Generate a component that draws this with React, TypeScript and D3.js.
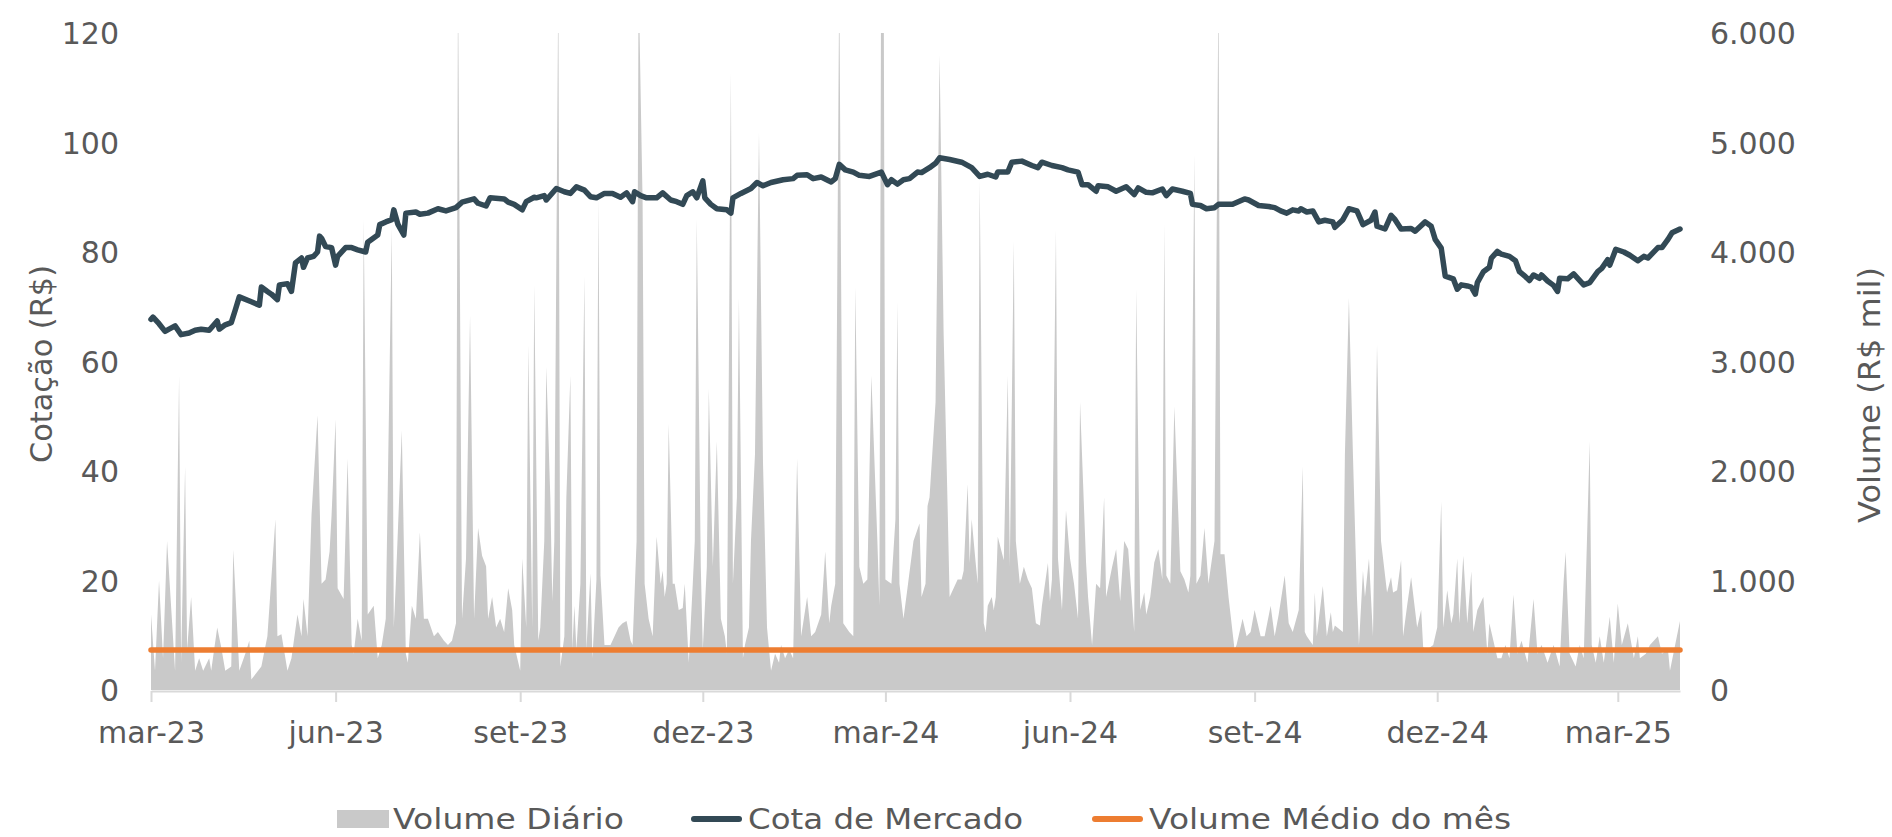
import React, { useEffect, useRef } from "react";
import * as d3 from "d3";

const startDate = "2023-03-01";
const lastDay = 762;

// Volume diário (R$ mil): [dias desde 01/03/2023, valor]
const volumeDiario: [number, number][] = [
  [0, 690], [2, 175], [4, 1000], [6, 290], [8, 1360], [12, 175], [14, 2870], [15, 250], [17, 2040], [18, 370],
  [20, 850], [22, 175], [24, 290], [26, 175], [29, 290], [30, 175], [33, 570], [35, 390], [37, 175], [40, 215],
  [41, 1280], [44, 175], [47, 330], [49, 450], [50, 95], [55, 215], [58, 490], [62, 1560], [63, 490], [65, 510],
  [68, 175], [70, 290], [73, 690], [75, 490], [76, 830], [78, 490], [80, 1600], [83, 2510], [85, 970], [87, 1010],
  [89, 1265], [90, 1600], [92, 2470], [93, 930], [96, 830], [98, 2115], [100, 410], [101, 330], [103, 650], [105, 450],
  [106, 4300], [108, 690], [111, 770], [113, 290], [115, 410], [117, 650], [120, 4220], [121, 570], [122, 970], [125, 2370],
  [127, 330], [128, 250], [130, 770], [132, 650], [134, 1440], [136, 650], [138, 650], [141, 490], [143, 530], [146, 450],
  [148, 410], [150, 450], [152, 610], [153, 6500], [155, 650], [157, 1200], [159, 3420], [161, 650], [163, 1480], [165, 1225],
  [167, 1130], [168, 650], [170, 850], [172, 570], [174, 650], [176, 530], [178, 930], [180, 730], [181, 410], [184, 175],
  [185, 1200], [187, 570], [188, 3150], [190, 570], [191, 3700],
  [193, 450], [194, 570], [196, 1360], [197, 2950], [199, 1760], [200, 810], [201, 1360], [203, 6500], [204, 215], [206, 490],
  [207, 1760], [209, 2870], [210, 370], [211, 770], [212, 370], [214, 970], [216, 3780], [217, 370], [219, 1066], [220, 290],
  [222, 1010], [223, 4490], [224, 1045], [226, 410], [227, 410], [229, 410], [231, 490], [233, 570], [235, 610], [237, 630],
  [239, 450], [240, 410], [242, 1360], [243, 6500], [245, 4450], [246, 970], [248, 650], [250, 490], [252, 1400], [254, 970],
  [255, 1090], [256, 850], [257, 970], [258, 2430], [260, 970], [261, 970], [263, 730], [265, 750], [266, 970], [268, 250],
  [270, 970], [271, 1360], [272, 4300], [274, 1125], [275, 370], [277, 1125], [278, 2750], [280, 1125], [282, 2270], [284, 650],
  [286, 490], [287, 330], [289, 5640], [290, 970], [292, 1760], [293, 3580], [295, 290], [296, 410], [298, 570], [299, 1360],
  [301, 2150], [303, 5090], [305, 2075], [307, 570], [309, 175], [311, 330], [313, 250], [314, 410], [316, 290], [318, 370],
  [320, 290], [322, 2115], [324, 490], [325, 610], [327, 850], [329, 490], [331, 530], [334, 690], [336, 1265], [338, 610],
  [339, 770], [341, 970], [343, 6500], [345, 610], [348, 530], [350, 490], [351, 3680], [353, 1125], [355, 970], [357, 1010],
  [359, 2870], [362, 1360], [363, 770], [364, 7500], [365, 7500], [366, 1010], [369, 970], [371, 1560], [372, 3540], [373, 970],
  [375, 650], [377, 930], [380, 1360],
  [383, 1520], [384, 850], [386, 970], [387, 1680], [388, 1760], [391, 2630], [393, 5800], [395, 3270], [397, 1680], [398, 850],
  [400, 930], [402, 1010], [404, 1010], [405, 1090], [407, 1880], [408, 1160], [409, 1560], [411, 1160], [412, 970], [413, 4650],
  [415, 610], [416, 530], [417, 770], [419, 850], [420, 730], [421, 850], [422, 1400], [425, 1185], [427, 2870], [428, 1125],
  [430, 4100], [431, 1360], [433, 970], [435, 1125], [437, 1010], [439, 930], [441, 610], [443, 590], [444, 770], [447, 1160],
  [448, 810], [449, 1010], [451, 4200], [452, 1200], [454, 730], [456, 1640], [458, 1200], [460, 970], [462, 650], [463, 2630],
  [466, 1165], [467, 850], [469, 410], [471, 970], [473, 930], [475, 1760], [476, 850], [479, 1125], [481, 1285], [483, 810],
  [485, 1360], [487, 1285], [490, 530], [491, 3660], [493, 730], [495, 890], [496, 690], [498, 850], [500, 1165], [502, 1285],
  [504, 1010], [505, 4260], [506, 1045], [508, 970], [510, 2590], [513, 1085], [515, 1010], [517, 890], [518, 1045], [520, 4890],
  [521, 970], [523, 1045], [525, 1480], [527, 970], [530, 1360], [532, 6500], [533, 1240], [535, 1240], [537, 850], [540, 370],
  [541, 410], [544, 650], [546, 490], [548, 530], [550, 730], [553, 490], [555, 490], [558, 770], [560, 490], [562, 690],
  [565, 1045], [567, 610], [569, 530], [572, 730], [574, 2040],
  [575, 530], [576, 490], [579, 410], [580, 890], [581, 490], [584, 950], [586, 490], [588, 710], [589, 530], [590, 590],
  [594, 530], [595, 2150], [597, 3580], [599, 2150], [601, 850], [602, 410], [604, 1090], [605, 850], [607, 1200], [609, 490],
  [611, 3150], [613, 1360], [616, 890], [618, 1030], [619, 890], [621, 910], [623, 1185], [624, 490], [626, 770], [628, 1030],
  [631, 570], [633, 730], [634, 390], [636, 370], [639, 410], [641, 570], [643, 1720], [644, 570], [646, 910], [648, 610],
  [649, 690], [651, 1200], [652, 610], [654, 1225], [656, 610], [658, 1085], [659, 530], [661, 730], [664, 850], [666, 330],
  [667, 610], [671, 290], [673, 290], [675, 410], [677, 290], [679, 870], [681, 330], [683, 450], [686, 250], [689, 830],
  [691, 330], [693, 410], [696, 250], [699, 410], [702, 215], [704, 990], [705, 1260], [707, 330], [710, 215], [712, 410],
  [714, 290], [717, 2270], [718, 410], [720, 250], [722, 490], [724, 250], [727, 670], [729, 250], [731, 790], [733, 410],
  [736, 610], [739, 290], [741, 490], [742, 290], [745, 330], [747, 410], [751, 490], [753, 330], [756, 370], [757, 175],
  [760, 450], [762, 630],
];

// Cota de mercado (R$): [dias desde 01/03/2023, valor]
const cotaMercado: [number, number][] = [
  [0, 67.7], [1, 68.1], [4, 66.9], [7, 65.5], [9, 65.9], [12, 66.5], [15, 64.9], [19, 65.2], [22, 65.7], [25, 65.9],
  [29, 65.7], [33, 67.4], [34, 65.9], [37, 66.7], [40, 67.1], [42, 69.4], [44, 71.8], [50, 70.9], [54, 70.3], [55, 73.6],
  [58, 72.8], [60, 72.3], [63, 71.3], [64, 74], [68, 74.2], [70, 72.8], [72, 78], [75, 78.9], [76, 77.2], [78, 78.9],
  [81, 79.2], [83, 80], [84, 82.9], [85, 82.5], [87, 81], [90, 80.8], [92, 77.6], [93, 79.2], [97, 80.8], [100, 80.8],
  [103, 80.4], [107, 80], [108, 81.8], [113, 83.1], [114, 85], [117, 85.5], [120, 85.9], [121, 87.7], [123, 85.1], [126, 83.1],
  [127, 87.1], [132, 87.3], [134, 86.9], [138, 87.1], [143, 87.9], [147, 87.5], [152, 88.1], [155, 89.1], [161, 89.7], [163, 88.9],
  [167, 88.4], [169, 89.9], [176, 89.7], [178, 89.1], [181, 88.7], [185, 87.7], [187, 89.2], [191, 90],
  [192, 89.9], [196, 90.3], [197, 89.5], [202, 91.6], [206, 91], [209, 90.7], [212, 91.9], [216, 91.3], [219, 90.1], [222, 89.9],
  [226, 90.7], [230, 90.7], [234, 90], [237, 90.8], [240, 89.2], [241, 91], [244, 90.3], [247, 89.9], [252, 89.9], [255, 90.8],
  [259, 89.5], [262, 89.2], [265, 88.7], [267, 90.3], [270, 91], [272, 89.9], [275, 93], [276, 89.9], [279, 88.7], [282, 87.9],
  [287, 87.7], [289, 87.1], [290, 89.9], [294, 90.7], [299, 91.6], [302, 92.7], [305, 92.1], [309, 92.7], [315, 93.2], [320, 93.4],
  [322, 94], [327, 94.1], [330, 93.4], [334, 93.7], [339, 92.8], [341, 93.4], [343, 96], [346, 95], [350, 94.6], [353, 94],
  [358, 93.8], [364, 94.6], [367, 92.3], [369, 93.2], [372, 92.4], [375, 93.2], [378, 93.4], [382, 94.6],
  [384, 94.5], [388, 95.4], [391, 96.2], [393, 97.2], [398, 96.9], [404, 96.4], [409, 95.4], [413, 93.8], [417, 94.2], [421, 93.7],
  [422, 94.6], [427, 94.6], [429, 96.4], [434, 96.6], [439, 95.8], [442, 95.4], [444, 96.4], [449, 95.8], [454, 95.4], [457, 95],
  [462, 94.6], [464, 92.3], [467, 92.3], [471, 91.1], [472, 92.1], [477, 91.9], [481, 91.1], [486, 91.9], [490, 90.5], [492, 91.7],
  [496, 90.9], [499, 90.8], [504, 91.5], [506, 90.3], [509, 91.5], [514, 91.1], [518, 90.7], [519, 88.7], [523, 88.5], [526, 87.9],
  [530, 88.1], [532, 88.7], [539, 88.7], [545, 89.7], [547, 89.5], [552, 88.5], [557, 88.3], [560, 88.1], [563, 87.5], [566, 87.1],
  [569, 87.7], [572, 87.5],
  [573, 87.9], [576, 87.3], [579, 87.5], [582, 85.5], [585, 85.8], [589, 85.5], [590, 84.5], [594, 85.9], [597, 87.9], [601, 87.5],
  [604, 85], [608, 85.8], [610, 87.3], [611, 84.7], [615, 84.2], [618, 86.7], [620, 85.9], [623, 84.2], [628, 84.3], [630, 83.8],
  [635, 85.5], [638, 84.7], [640, 82.3], [643, 80.7], [645, 75.6], [649, 75.1], [651, 73.2], [653, 74], [656, 73.8], [658, 73.6],
  [660, 72.3], [661, 74.4], [664, 76.4], [667, 77.2], [668, 78.9], [671, 80.1], [673, 79.6], [677, 79.2], [680, 78.4], [682, 76.4],
  [685, 75.5], [687, 74.8], [689, 75.8], [692, 75.2], [693, 75.8], [696, 74.7], [699, 73.9], [701, 72.8], [702, 75.2], [706, 75.1],
  [709, 76], [714, 74], [717, 74.4], [721, 76.4], [723, 77], [726, 78.6], [727, 77.6], [730, 80.5], [734, 80], [737, 79.4],
  [741, 78.4], [744, 79.2], [746, 78.9], [751, 80.8], [753, 80.8], [756, 82.3], [758, 83.5], [762, 84.2],
];

// Volume médio do mês (R$ mil)
const volumeMedio = 365;

const xTickDates = [
  "2023-03-01", "2023-06-01", "2023-09-01", "2023-12-01", "2024-03-01",
  "2024-06-01", "2024-09-01", "2024-12-01", "2025-03-01",
];
const xTickLabels = ["mar-23", "jun-23", "set-23", "dez-23", "mar-24", "jun-24", "set-24", "dez-24", "mar-25"];
const priceTicks = [0, 20, 40, 60, 80, 100, 120];
const volumeTicks = [0, 1000, 2000, 3000, 4000, 5000, 6000];

const colors = { volume: "#c9c9c9", cota: "#324955", medio: "#ed7d31", text: "#595959", axis: "#d9d9d9" };

const App = () => {
  const svgRef = useRef<SVGSVGElement>(null);

  useEffect(() => {
    const svg = d3.select(svgRef.current);
    svg.selectAll("*").remove();

    const left = 151, right = 1680, top = 33, bottom = 690;
    const font = "'DejaVu Sans', sans-serif";

    const parse = d3.utcParse("%Y-%m-%d");
    const t0 = parse(startDate) as Date;
    const toDate = (d: number) => d3.utcDay.offset(t0, d);

    const x = d3.scaleUtc().domain([t0, toDate(lastDay)]).range([left, right]);
    const yPrice = d3.scaleLinear().domain([0, 120]).range([bottom, top]);
    const yVol = d3.scaleLinear().domain([0, 6000]).range([bottom, top]);

    const br = d3.formatLocale({ decimal: ",", thousands: ".", grouping: [3], currency: ["R$", ""] });
    const fmtVol = br.format(",.0f");

    svg
      .append("defs")
      .append("clipPath")
      .attr("id", "plot-clip")
      .append("rect")
      .attr("x", left - 2)
      .attr("y", top)
      .attr("width", right - left + 4)
      .attr("height", bottom - top);

    // volume diário (área)
    const area = d3
      .area<[number, number]>()
      .x((d) => x(toDate(d[0])))
      .y0(yVol(0))
      .y1((d) => yVol(d[1]));

    svg
      .append("path")
      .datum(volumeDiario)
      .attr("d", area)
      .attr("fill", colors.volume)
      .attr("clip-path", "url(#plot-clip)");

    // eixo x
    const xAxis = d3
      .axisBottom(x)
      .tickValues(xTickDates.map((d) => parse(d) as Date))
      .tickFormat((_, i) => xTickLabels[i])
      .tickSize(11)
      .tickSizeOuter(0);

    const gx = svg.append("g").attr("transform", `translate(0,${bottom + 1})`).call(xAxis);
    gx.select(".domain").attr("stroke", colors.axis).attr("stroke-width", 2);
    gx.selectAll(".tick line").attr("stroke", colors.axis).attr("stroke-width", 2);
    gx.selectAll(".tick text")
      .attr("y", 52)
      .attr("dy", 0)
      .attr("fill", colors.text)
      .style("font-family", font)
      .style("font-size", "30px");

    // volume médio do mês
    svg
      .append("line")
      .attr("x1", x(t0))
      .attr("x2", x(toDate(lastDay)))
      .attr("y1", yVol(volumeMedio))
      .attr("y2", yVol(volumeMedio))
      .attr("stroke", colors.medio)
      .attr("stroke-width", 5.5)
      .attr("stroke-linecap", "round");

    // cota de mercado
    const line = d3
      .line<[number, number]>()
      .x((d) => x(toDate(d[0])))
      .y((d) => yPrice(d[1]));

    svg
      .append("path")
      .datum(cotaMercado)
      .attr("d", line)
      .attr("fill", "none")
      .attr("stroke", colors.cota)
      .attr("stroke-width", 5.5)
      .attr("stroke-linejoin", "round")
      .attr("stroke-linecap", "round");

    // eixo y esquerdo
    svg
      .selectAll(".ytick-left")
      .data(priceTicks)
      .enter()
      .append("text")
      .attr("class", "ytick-left")
      .attr("x", 119)
      .attr("y", (d) => yPrice(d) + 11)
      .attr("text-anchor", "end")
      .attr("fill", colors.text)
      .style("font-family", font)
      .style("font-size", "30px")
      .text((d) => String(d));

    // eixo y direito
    svg
      .selectAll(".ytick-right")
      .data(volumeTicks)
      .enter()
      .append("text")
      .attr("class", "ytick-right")
      .attr("x", 1710)
      .attr("y", (d) => yVol(d) + 11)
      .attr("text-anchor", "start")
      .attr("fill", colors.text)
      .style("font-family", font)
      .style("font-size", "30px")
      .text((d) => fmtVol(d));

    // títulos dos eixos
    svg
      .append("text")
      .attr("transform", "translate(41,364) rotate(-90)")
      .attr("text-anchor", "middle")
      .attr("dominant-baseline", "central")
      .attr("fill", colors.text)
      .attr("textLength", 198)
      .attr("lengthAdjust", "spacingAndGlyphs")
      .style("font-family", font)
      .style("font-size", "30px")
      .text("Cotação (R$)");

    svg
      .append("text")
      .attr("transform", "translate(1869,395) rotate(-90)")
      .attr("text-anchor", "middle")
      .attr("dominant-baseline", "central")
      .attr("fill", colors.text)
      .attr("textLength", 256)
      .attr("lengthAdjust", "spacingAndGlyphs")
      .style("font-family", font)
      .style("font-size", "30px")
      .text("Volume (R$ mil)");

    // legenda
    const legend = svg.append("g").attr("class", "legend");
    const legendY = 819;

    legend
      .append("rect")
      .attr("x", 337)
      .attr("y", legendY - 9)
      .attr("width", 52)
      .attr("height", 18)
      .attr("fill", colors.volume);

    legend
      .append("line")
      .attr("x1", 694)
      .attr("x2", 739)
      .attr("y1", legendY)
      .attr("y2", legendY)
      .attr("stroke", colors.cota)
      .attr("stroke-width", 6)
      .attr("stroke-linecap", "round");

    legend
      .append("line")
      .attr("x1", 1095)
      .attr("x2", 1140)
      .attr("y1", legendY)
      .attr("y2", legendY)
      .attr("stroke", colors.medio)
      .attr("stroke-width", 6)
      .attr("stroke-linecap", "round");

    const legendTexts = [
      { label: "Volume Diário", x: 393, w: 231 },
      { label: "Cota de Mercado", x: 748, w: 275 },
      { label: "Volume Médio do mês", x: 1149, w: 362 },
    ];

    legend
      .selectAll(".legend-text")
      .data(legendTexts)
      .enter()
      .append("text")
      .attr("class", "legend-text")
      .attr("x", (d) => d.x)
      .attr("y", legendY + 10)
      .attr("textLength", (d) => d.w)
      .attr("lengthAdjust", "spacingAndGlyphs")
      .attr("fill", colors.text)
      .style("font-family", font)
      .style("font-size", "29px")
      .text((d) => d.label);
  }, []);

  return (
    <svg
      ref={svgRef}
      width={1892}
      height={837}
      style={{ position: "absolute", left: 0, top: 0, display: "block", background: "#fff" }}
    ></svg>
  );
};

export default App;
